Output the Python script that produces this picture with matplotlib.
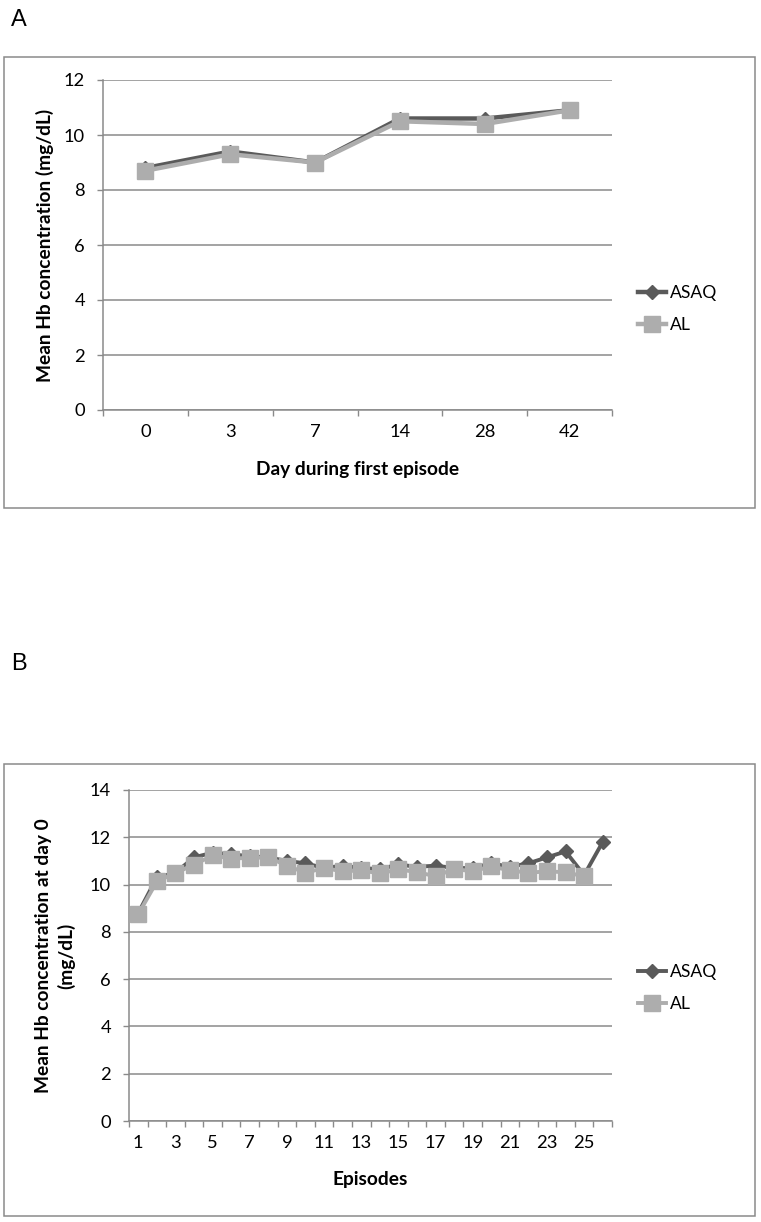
import matplotlib
matplotlib.use("Agg")
import matplotlib.pyplot as plt
from matplotlib.patches import Rectangle

plt.rcParams['font.family'] = ['Lato', 'DejaVu Sans']

# ---------------- data ----------------
days = ['0', '3', '7', '14', '28', '42']
asaq_a = [8.8, 9.4, 9.0, 10.6, 10.6, 10.9]
al_a = [8.7, 9.3, 9.0, 10.5, 10.4, 10.9]

episodes = [str(i) for i in range(1, 27)]
asaq_b = [8.8, 10.3, 10.5, 11.15, 11.35, 11.28, 11.2, 11.15, 11.0, 10.9, 10.7, 10.8, 10.7,
          10.65, 10.85, 10.75, 10.8, 10.7, 10.7, 10.9, 10.75, 10.9, 11.15, 11.4, 10.4, 11.8]
al_b = [8.75, 10.13, 10.49, 10.84, 11.23, 11.1, 11.13, 11.15, 10.8, 10.5, 10.7, 10.56, 10.6,
        10.47, 10.64, 10.53, 10.35, 10.66, 10.56, 10.77, 10.6, 10.5, 10.56, 10.52, 10.35]

series_names = ['ASAQ', 'AL']

# ---------------- layout helpers ----------------
W, H = 761, 1222
DPI = 100
fig = plt.figure(figsize=(W / DPI, H / DPI), dpi=DPI)

def rect(left, top, right, bottom):
    return [left / W, 1 - bottom / H, (right - left) / W, (bottom - top) / H]

GRID = '#8a8a8a'
DARK = '#5a5a5a'
LIGHT = '#adadad'
FS_TICK = 13.2
FS_LAB = 13.8
FS_LEG = 12.6

def frame_box(left, top, right, bottom):
    r = Rectangle((left / W, 1 - bottom / H), (right - left) / W, (bottom - top) / H,
                  transform=fig.transFigure, fill=False, edgecolor=GRID, linewidth=1.1,
                  zorder=0)
    fig.patches.append(r)

def style_axes(ax, ncat, ymax, ystep, labels, label_every):
    ax.set_xlim(-0.5, ncat - 0.5)
    ax.set_ylim(0, ymax)
    yt = list(range(0, ymax + 1, ystep))
    ax.set_yticks(yt)
    ax.set_yticklabels([str(v) for v in yt], fontsize=FS_TICK)
    ax.yaxis.grid(True, color=GRID, linewidth=1.1)
    ax.set_axisbelow(True)
    for s in ['top', 'right']:
        ax.spines[s].set_visible(False)
    for s in ['left', 'bottom']:
        ax.spines[s].set_color(GRID)
        ax.spines[s].set_linewidth(1.1)
    ax.set_xticks([i - 0.5 for i in range(ncat + 1)])
    ax.set_xticklabels([])
    ax.tick_params(axis='x', which='major', length=4, width=1.0, color=GRID, direction='out')
    pos = list(range(0, ncat, label_every))
    ax.set_xticks(pos, minor=True)
    ax.set_xticklabels([labels[i] for i in pos], minor=True, fontsize=FS_TICK)
    ax.tick_params(axis='x', which='minor', length=0, pad=10)
    ax.tick_params(axis='y', length=4, width=1.0, color=GRID, pad=9)

def add_legend(ax, lines, cy):
    leg = ax.legend(lines, series_names, loc='center left',
                    bbox_to_anchor=(638 / W, 1 - cy / H), bbox_transform=fig.transFigure,
                    frameon=False, fontsize=FS_LEG, handlelength=1.6, handletextpad=0.25,
                    labelspacing=0.95, borderpad=0, borderaxespad=0)
    return leg

# ---------------- Panel A ----------------
fig.text(11 / W, 1 - 20 / H, 'A', fontsize=17, family='Liberation Sans', va='center', ha='left')
frame_box(4, 57, 755, 508)
axA = fig.add_axes(rect(103, 80, 612, 410))
xa = list(range(len(days)))
lA1, = axA.plot(xa, asaq_a, color=DARK, lw=3.2, marker='D', ms=7.5, zorder=3)
lA2, = axA.plot(xa, al_a, color=LIGHT, lw=3.2, marker='s', ms=11, zorder=4)
style_axes(axA, len(days), 12, 2, days, 1)
axA.set_xlabel('Day during first episode', fontsize=FS_LAB, fontweight='bold')
axA.xaxis.label.set_va('center')
axA.xaxis.set_label_coords(0.5, -(469 - 410) / 330)
axA.set_ylabel('Mean Hb concentration (mg/dL)', fontsize=FS_LAB, fontweight='bold')
axA.yaxis.label.set_va('center')
axA.yaxis.set_label_coords(-(103 - 45) / 509, 0.5)
add_legend(axA, [lA1, lA2], 309)

# ---------------- Panel B ----------------
fig.text(11 / W, 1 - 664 / H, 'B', fontsize=17, family='Liberation Sans', va='center', ha='left')
frame_box(4, 764, 755, 1216)
axB = fig.add_axes(rect(129, 790, 612, 1121))
xb_asaq = list(range(len(asaq_b)))
xb_al = list(range(len(al_b)))
lB1, = axB.plot(xb_asaq, asaq_b, color=DARK, lw=2.8, marker='D', ms=7.5, zorder=3)
lB2, = axB.plot(xb_al, al_b, color=LIGHT, lw=2.8, marker='s', ms=11, zorder=4)
style_axes(axB, len(episodes), 14, 2, episodes, 2)
axB.set_xlabel('Episodes', fontsize=FS_LAB, fontweight='bold')
axB.xaxis.label.set_va('center')
axB.xaxis.set_label_coords(0.5, -(1179 - 1121) / 331)
axB.set_ylabel('Mean Hb concentration at day 0\n(mg/dL)', fontsize=FS_LAB, fontweight='bold',
               linespacing=1.3)
axB.yaxis.label.set_va('center')
axB.yaxis.set_label_coords(-(129 - 55) / 483, 0.5)
add_legend(axB, [lB1, lB2], 988)

fig.savefig('out.png', dpi=DPI)
